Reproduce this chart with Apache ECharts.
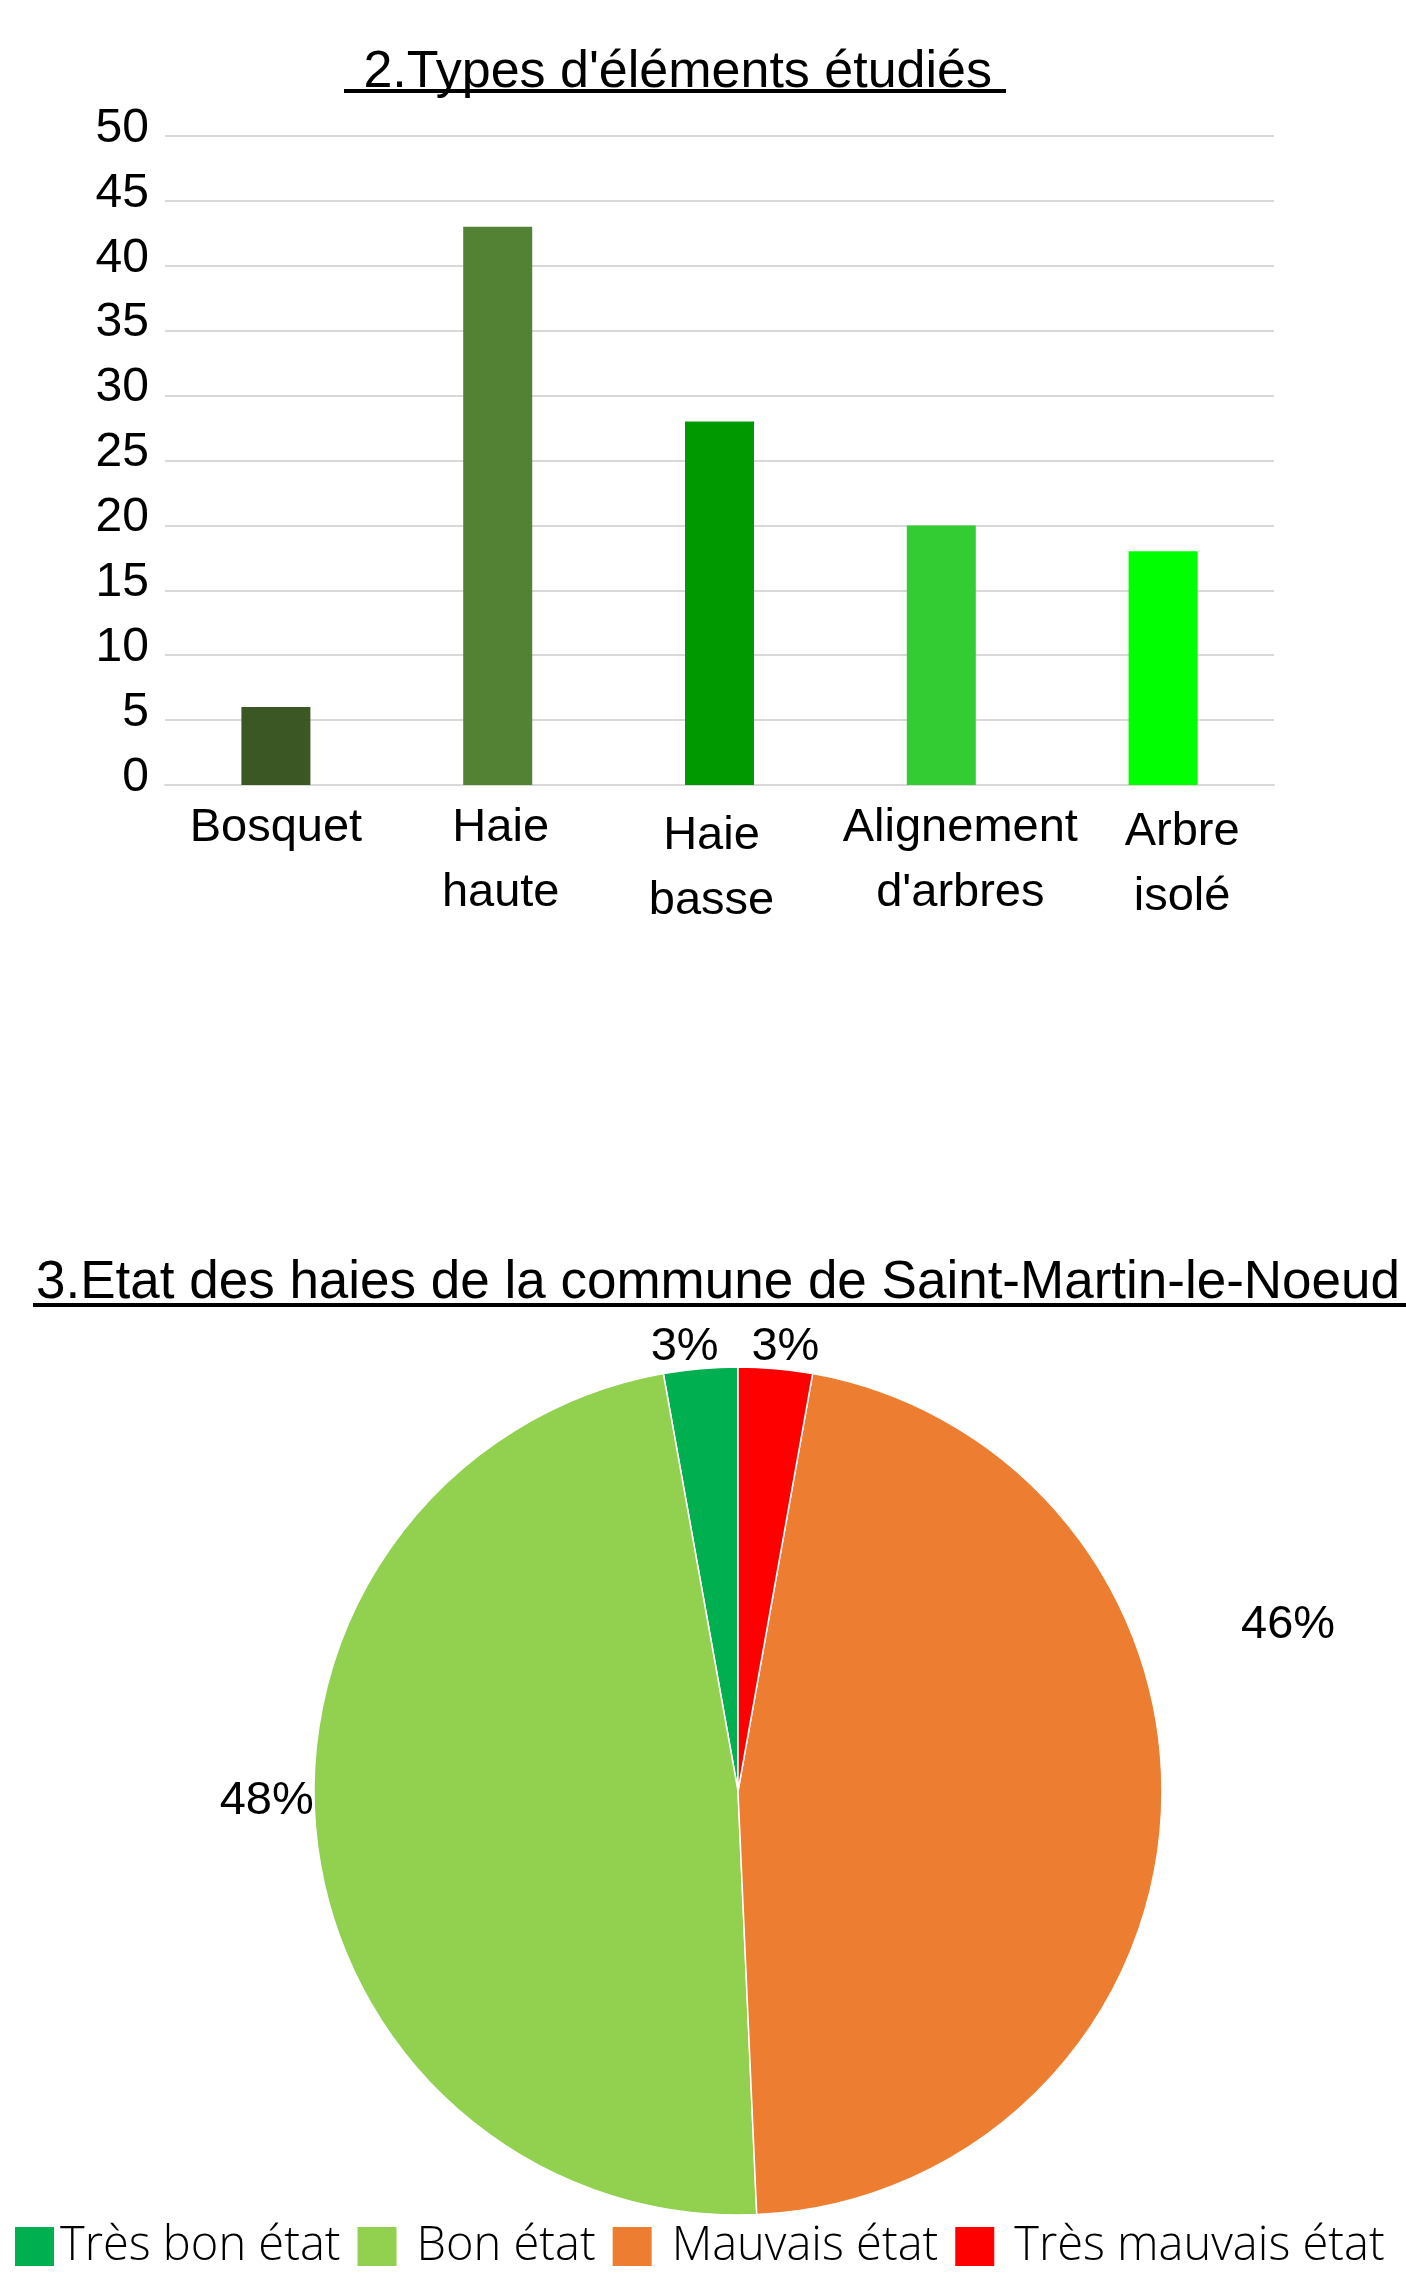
<!DOCTYPE html>
<html>
<head>
<meta charset="utf-8">
<script src="https://cdn.jsdelivr.net/npm/echarts@6/dist/echarts.min.js"></script>
<style>
  html, body { margin: 0; padding: 0; background: #fff; }
  #main { width: 1406px; height: 2275px; }
</style>
</head>
<body>
<div id="main"></div>
<script>
// bar chart data
const barTitle = " 2.Types d'éléments étudiés";
const barCategories = ['Bosquet', 'Haie\nhaute', 'Haie\nbasse', "Alignement\nd'arbres", 'Arbre\nisolé'];
const barValues = [6, 43, 28, 20, 18];
const barColors = ['#3b5724', '#548235', '#009900', '#33cc33', '#00ff00'];

// pie chart data
const pieTitle = '3.Etat des haies de la commune de Saint-Martin-le-Noeud';
const pieNames = ['Très bon état', 'Bon état', 'Mauvais état', 'Très mauvais état'];
const pieValues = [2, 34, 33, 2];
const pieColors = ['#00b050', '#92d050', '#ed7d31', '#ff0000'];

// small nudges so labels sit where the original has them
const labelNudge = [[20, 0], [19, -39], [58, -196], [-26, 0]];
// [left pad, right pad, top pad] for the category labels
const catPad = [[0, 0, 0], [6, 0, 0], [0, 16, 8], [38, 0, 0], [38, 0, 4]];

const font = 'Liberation Sans, Arial, sans-serif';

let chart = echarts.init(document.getElementById('main'));

let option = {
  animation: false,
  backgroundColor: '#fff',
  title: [
    {
      text: barTitle,
      left: 344,
      top: 42,
      textStyle: { fontFamily: font, fontSize: 52, fontWeight: 'normal', color: '#000', lineHeight: 52 }
    },
    {
      text: pieTitle,
      left: 31,
      top: 1252,
      textStyle: { fontFamily: font, fontSize: 53, fontWeight: 'normal', color: '#000', lineHeight: 53 }
    }
  ],
  // underlines of the two titles
  graphic: [
    { type: 'line', shape: { x1: 344, y1: 91, x2: 1006, y2: 91 }, style: { stroke: '#000', lineWidth: 4 } },
    { type: 'line', shape: { x1: 33, y1: 1305, x2: 1406, y2: 1305 }, style: { stroke: '#000', lineWidth: 4 } }
  ],
  grid: {
    left: 165,
    right: 132,
    top: 136,
    height: 649,
    containLabel: false
  },
  xAxis: {
    type: 'category',
    data: barCategories.map((c, i) => ({
      value: c,
      textStyle: { padding: [catPad[i][2], catPad[i][1], 0, catPad[i][0]] }
    })),
    axisLine: { show: true, lineStyle: { color: '#d9d9d9', width: 2 } },
    axisTick: { show: false },
    axisLabel: {
      interval: 0,
      margin: 11,
      color: '#000',
      fontFamily: font,
      fontSize: 47,
      lineHeight: 65
    }
  },
  yAxis: {
    type: 'value',
    min: 0,
    max: 50,
    interval: 5,
    axisLine: { show: false },
    axisTick: { show: false },
    axisLabel: {
      margin: 16,
      color: '#000',
      fontFamily: font,
      fontSize: 48,
      verticalAlign: 'bottom',
      lineHeight: 15
    },
    splitLine: { lineStyle: { color: '#d9d9d9', width: 2 } }
  },
  legend: {
    data: pieNames.map((n, i) => ({
      name: n,
      textStyle: { padding: [0, 0, 0, i === 0 ? 0 : 14] }
    })),
    left: 8,
    top: 2218,
    itemWidth: 41,
    itemHeight: 41,
    itemGap: 15,
    icon: 'rect',
    selectedMode: false,
    textStyle: {
      fontFamily: 'Open Sans, Noto Sans, sans-serif',
      fontWeight: 300,
      fontSize: 47,
      lineHeight: 47,
      color: '#000'
    }
  },
  series: [
    {
      type: 'bar',
      barWidth: 69,
      data: barValues.map((v, i) => ({ value: v, itemStyle: { color: barColors[i] } })),
      emphasis: { disabled: true }
    },
    {
      type: 'pie',
      center: [738, 1791],
      radius: 424,
      startAngle: 90,
      clockwise: false,
      data: pieNames.map((n, i) => ({ name: n, value: pieValues[i], itemStyle: { color: pieColors[i] } })),
      itemStyle: { borderColor: '#fff', borderWidth: 1.5 },
      label: {
        position: 'outside',
        color: '#000',
        fontFamily: font,
        fontSize: 47,
        distanceToLabelLine: 0,
        formatter: (p) => Math.round(p.percent) + '%'
      },
      labelLine: { show: false, length: 22, length2: 0 },
      labelLayout: (params) => {
        let n = labelNudge[params.dataIndex];
        return { dx: n[0], dy: n[1] };
      },
      emphasis: { disabled: true }
    }
  ]
};

chart.setOption(option);
</script>
</body>
</html>
